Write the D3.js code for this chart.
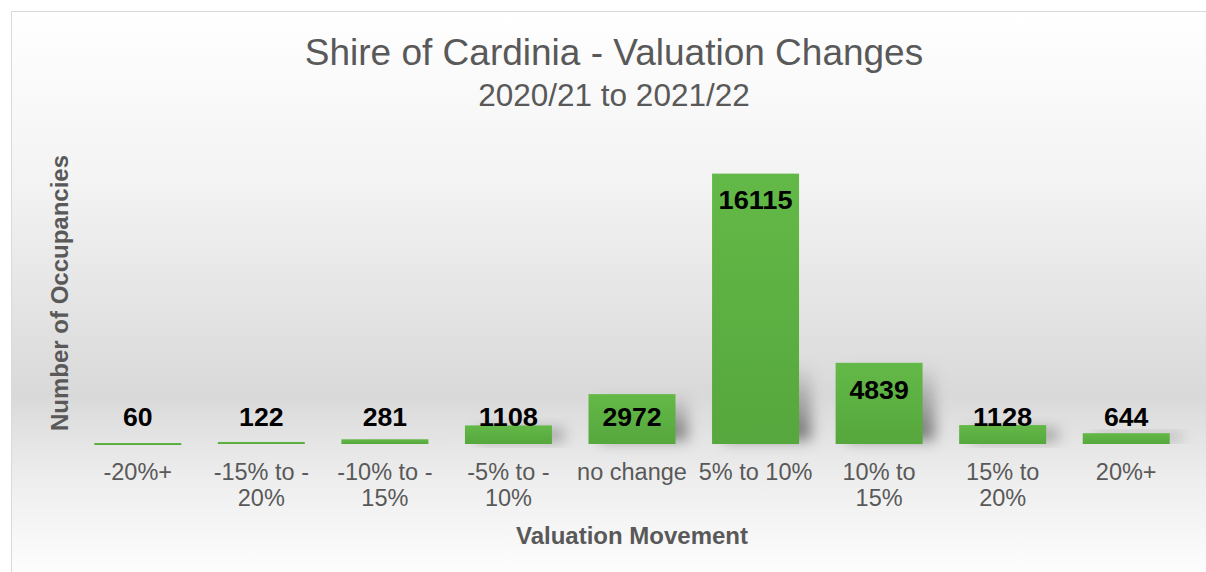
<!DOCTYPE html>
<html lang="en">
<head>
<meta charset="UTF-8">
<script src="https://d3js.org/d3.v7.min.js"></script>
<title>Shire of Cardinia - Valuation Changes</title>
<style>
    body { margin: 0; background: #ffffff; }
    svg { display: block; font-family: "Liberation Sans", Arial, sans-serif; }
</style>
</head>
<body>
<div id="container"></div>
<script>
    // data
    const categories = ["-20%+", "-15% to -20%", "-10% to -15%", "-5% to -10%", "no change",
                        "5% to 10%", "10% to 15%", "15% to 20%", "20%+"];
    // tick labels as Excel wrapped them
    const tickLabels = [["-20%+"], ["-15% to -", "20%"], ["-10% to -", "15%"], ["-5% to -", "10%"],
                        ["no change"], ["5% to 10%"], ["10% to", "15%"], ["15% to", "20%"], ["20%+"]];
    const occupancies = [60, 122, 281, 1108, 2972, 16115, 4839, 1128, 644];

    const title = "Shire of Cardinia - Valuation Changes";
    const subtitle = "2020/21 to 2021/22";
    const yTitle = "Number of Occupancies";
    const xTitle = "Valuation Movement";

    const W = 1206, H = 572;
    const plot = { left: 76, right: 1188, top: 142, bottom: 444 };

    const data = categories.map((c, i) => ({ cat: c, lines: tickLabels[i], value: occupancies[i] }));

    const svg = d3.select("#container").append("svg")
        .attr("width", W)
        .attr("height", H);

    const defs = svg.append("defs");

    // chart area background: white -> grey -> white
    const bg = defs.append("linearGradient").attr("id", "bgGrad")
        .attr("x1", 0).attr("y1", 0).attr("x2", 0).attr("y2", 1);
    bg.append("stop").attr("offset", "0%").attr("stop-color", "#ffffff");
    bg.append("stop").attr("offset", "30%").attr("stop-color", "#f3f3f3");
    bg.append("stop").attr("offset", "67%").attr("stop-color", "#d9d9d9");
    bg.append("stop").attr("offset", "82%").attr("stop-color", "#eeeeee");
    bg.append("stop").attr("offset", "100%").attr("stop-color", "#ffffff");

    const barGrad = defs.append("linearGradient").attr("id", "barGrad")
        .attr("x1", 0).attr("y1", 0).attr("x2", 0).attr("y2", 1);
    barGrad.append("stop").attr("offset", "0%").attr("stop-color", "#63b947");
    barGrad.append("stop").attr("offset", "100%").attr("stop-color", "#56a73d");

    const shGrad = defs.append("linearGradient").attr("id", "shGrad")
        .attr("x1", 0).attr("y1", 0).attr("x2", 0).attr("y2", 1);
    shGrad.append("stop").attr("offset", "0%").attr("stop-color", "#000").attr("stop-opacity", 0);
    shGrad.append("stop").attr("offset", "100%").attr("stop-color", "#000").attr("stop-opacity", 0.5);

    defs.append("filter").attr("id", "blur")
        .attr("x", "-50%").attr("y", "-50%").attr("width", "200%").attr("height", "200%")
        .append("feGaussianBlur").attr("stdDeviation", 7);

    svg.append("rect")
        .attr("x", 11.5).attr("y", 11.5)
        .attr("width", W).attr("height", H)
        .attr("fill", "url(#bgGrad)")
        .attr("stroke", "#d9d9d9");

    const x = d3.scaleBand()
        .domain(categories)
        .range([plot.left, plot.right])
        .paddingInner(0.296)
        .paddingOuter(0.148);

    const y = d3.scaleLinear()
        .domain([0, 18000])
        .range([plot.bottom, plot.top]);

    // soft shadow at the foot of each bar
    const shTop = d => Math.max(y(d.value), plot.bottom - 80);
    svg.append("g").selectAll("rect")
        .data(data)
        .join("rect")
        .attr("x", d => x(d.cat) + 12)
        .attr("width", x.bandwidth())
        .attr("y", shTop)
        .attr("height", d => plot.bottom - 4 - shTop(d))
        .attr("fill", "url(#shGrad)")
        .attr("filter", "url(#blur)");

    svg.append("g").selectAll("rect")
        .data(data)
        .join("rect")
        .attr("x", d => x(d.cat))
        .attr("width", x.bandwidth())
        .attr("y", d => y(d.value))
        .attr("height", d => Math.max(plot.bottom - y(d.value), 2))
        .attr("fill", "url(#barGrad)");

    // value labels (inside end, pushed up when the bar is short)
    svg.append("g").selectAll("text")
        .data(data)
        .join("text")
        .attr("x", d => x(d.cat) + x.bandwidth() / 2)
        .attr("y", d => Math.min(y(d.value) + 27, plot.bottom - 27))
        .attr("dy", "0.35em")
        .attr("text-anchor", "middle")
        .attr("font-size", 25)
        .attr("font-weight", "bold")
        .attr("textLength", d => String(d.value).length * 14.8)
        .attr("lengthAdjust", "spacingAndGlyphs")
        .attr("fill", "#000")
        .text(d => d.value);

    // category axis labels
    const ticks = svg.append("g").selectAll("text")
        .data(data)
        .join("text")
        .attr("x", d => x(d.cat) + x.bandwidth() / 2)
        .attr("y", 472)
        .attr("text-anchor", "middle")
        .attr("font-size", 23.5)
        .attr("fill", "#595959");
    ticks.selectAll("tspan")
        .data(d => d.lines)
        .join("tspan")
        .attr("x", function () { return d3.select(this.parentNode).attr("x"); })
        .attr("dy", (d, i) => i === 0 ? "0.35em" : "1.1em")
        .text(d => d);

    svg.append("text")
        .attr("x", 614).attr("y", 52)
        .attr("dy", "0.35em")
        .attr("text-anchor", "middle")
        .attr("font-size", 37)
        .attr("fill", "#595959")
        .text(title);

    svg.append("text")
        .attr("x", 614).attr("y", 95)
        .attr("dy", "0.35em")
        .attr("text-anchor", "middle")
        .attr("font-size", 31.5)
        .attr("fill", "#595959")
        .text(subtitle);

    svg.append("text")
        .attr("transform", "translate(60,293) rotate(-90)")
        .attr("dy", "0.35em")
        .attr("text-anchor", "middle")
        .attr("font-size", 24)
        .attr("font-weight", "bold")
        .attr("fill", "#595959")
        .text(yTitle);

    svg.append("text")
        .attr("x", 632).attr("y", 536)
        .attr("dy", "0.35em")
        .attr("text-anchor", "middle")
        .attr("font-size", 24)
        .attr("font-weight", "bold")
        .attr("fill", "#595959")
        .text(xTitle);
</script>
</body>
</html>
